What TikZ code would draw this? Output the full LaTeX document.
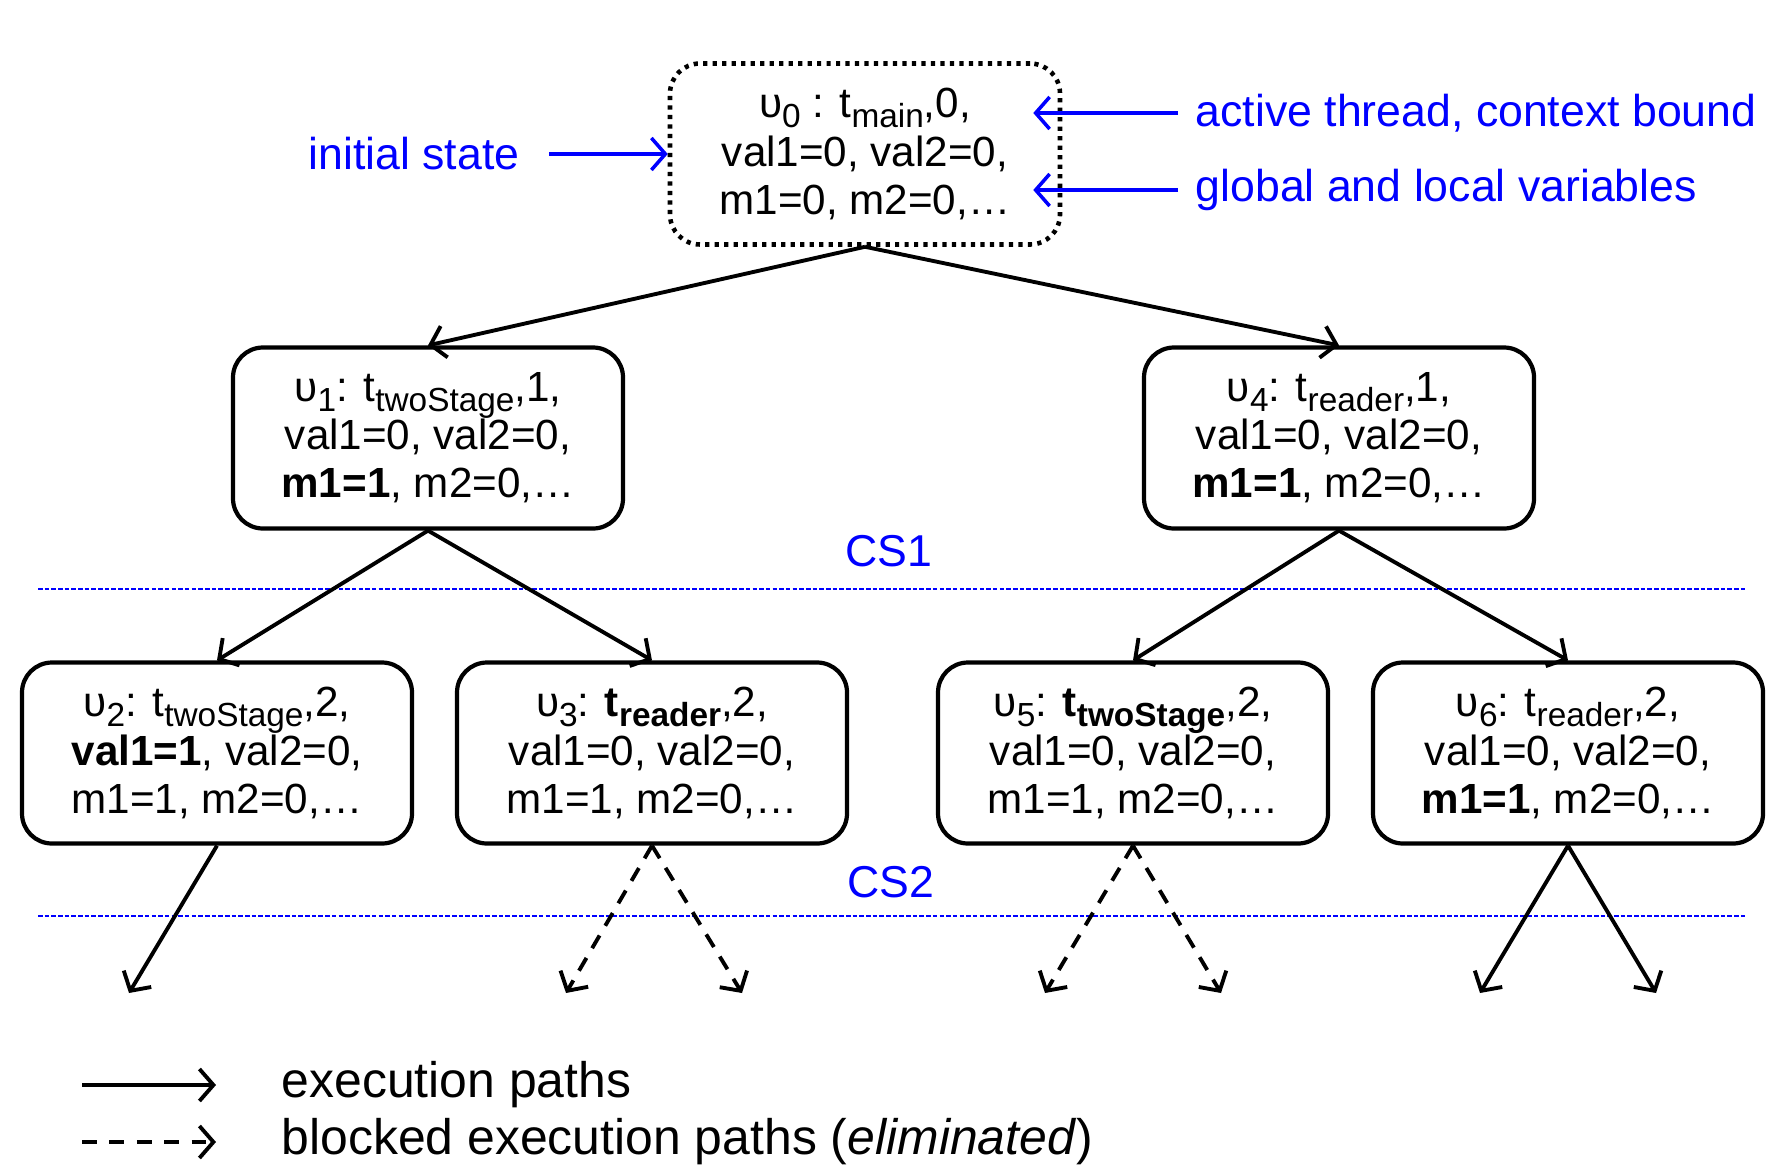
\documentclass[tikz,border=0pt]{standalone}
\usepackage{fontspec}
\setmainfont{Liberation Sans}
\usetikzlibrary{arrows.meta, calc}
\definecolor{noteblue}{RGB}{0,0,255}
\newcommand{\lowtext}[1]{\raisebox{-2.8pt}{\fontsize{9.5}{9.5}\selectfont #1}}

\begin{document}
\begin{tikzpicture}[every node/.style={font=\fontsize{12}{13.7}\selectfont, align=center},
  state/.style={draw, rounded corners=0.3cm, line width=1.2pt, minimum width=3.9cm, minimum height=1.81cm, inner sep=0pt},
  initstate/.style={state, line width=1.3pt, dash pattern=on 1.2pt off 1.5pt},
  execpath/.style={line width=1.1pt, -{Straight Barb[length=1.4mm, width=3.2mm]}},
  blockedpath/.style={execpath, dash pattern=on 4.2pt off 3.2pt},
  note/.style={text=noteblue, font=\fontsize{12.7}{15}\selectfont, inner sep=0pt},
  notearrow/.style={noteblue, line width=1pt, -{Straight Barb[length=1.4mm, width=3.2mm]}},
  csline/.style={noteblue, line width=0.6pt, dash pattern=on 1.3pt off 0.6pt}]
  \useasboundingbox (0,0) rectangle (17.85,11.71);
  \path (8.65,10.17) node[initstate] (v0) {υ\lowtext{0} : t\lowtext{main},0,\\val1=0, val2=0,\\m1=0, m2=0,…}
  (4.28,7.33) node[state] (v1) {υ\lowtext{1}: t\lowtext{twoStage},1,\\val1=0, val2=0,\\\textbf{m1=1}, m2=0,…}
  (13.39,7.33) node[state] (v4) {υ\lowtext{4}: t\lowtext{reader},1,\\val1=0, val2=0,\\\textbf{m1=1}, m2=0,…}
  (2.17,4.18) node[state] (v2) {υ\lowtext{2}: t\lowtext{twoStage},2,\\\textbf{val1=1}, val2=0,\\m1=1, m2=0,…}
  (6.52,4.18) node[state] (v3) {υ\lowtext{3}: \textbf{t\lowtext{reader}},2,\\val1=0, val2=0,\\m1=1, m2=0,…}
  (11.33,4.18) node[state] (v5) {υ\lowtext{5}: \textbf{t\lowtext{twoStage}},2,\\val1=0, val2=0,\\m1=1, m2=0,…}
  (15.68,4.18) node[state] (v6) {υ\lowtext{6}: t\lowtext{reader},2,\\val1=0, val2=0,\\\textbf{m1=1}, m2=0,…};

  \path (4.14,10.17) node[note] (init) {initial state}
  (11.95,10.58) node[note, anchor=west] (act) {active thread, context bound}
  (11.95,9.81) node[note, anchor=west] (vars) {global and local variables}
  (8.89,6.20) node[note] (cs1) {CS1}
  (8.91,2.89) node[note] (cs2) {CS2};
  \coordinate (rootin) at ($(v0.east)+(-0.29,0)$);
  \draw[notearrow, shorten <=0.29cm] (init.east) -- (v0.west);
  \draw[notearrow, shorten <=0.17cm] (act.west) -- (act.west -| rootin);
  \draw[notearrow, shorten <=0.17cm] (vars.west) -- (vars.west -| rootin);

  \coordinate (cs1a) at (0.38,5.82); \coordinate (cs1b) at (17.47,5.82);
  \coordinate (cs2a) at (0.38,2.55); \coordinate (cs2b) at (17.47,2.55);
  \draw[csline] (cs1a) -- (cs1b);
  \draw[csline] (cs2a) -- (cs2b);

  \draw[execpath] (v0.south) -- (v1.north);
  \draw[execpath] (v0.south) -- (v4.north);
  \draw[execpath] (v1.south) -- (v2.north);
  \draw[execpath] (v1.south) -- (v3.north);
  \draw[execpath] (v4.south) -- (v5.north);
  \draw[execpath] (v4.south) -- (v6.north);

  \path (1.29,1.78) coordinate (e2) (5.66,1.78) coordinate (e3a) (7.42,1.78) coordinate (e3b)
  (10.45,1.78) coordinate (e5a) (12.21,1.78) coordinate (e5b)
  (14.80,1.78) coordinate (e6a) (16.56,1.78) coordinate (e6b);
  \draw[execpath] (v2.south) -- (e2);
  \draw[blockedpath] (v3.south) -- (e3a);
  \draw[blockedpath] (v3.south) -- (e3b);
  \draw[blockedpath] (v5.south) -- (e5a);
  \draw[blockedpath] (v5.south) -- (e5b);
  \draw[execpath] (v6.south) -- (e6a);
  \draw[execpath] (v6.south) -- (e6b);

  \path (0.82,0.86) coordinate (l1a) (2.16,0.86) coordinate (l1b)
  (0.82,0.29) coordinate (l2a) (2.16,0.29) coordinate (l2b);
  \draw[execpath] (l1a) -- (l1b);
  \draw[blockedpath, dash pattern=on 4.2pt off 3.6pt] (l2a) -- (l2b);
  \path (2.81,0.86) node[anchor=west, inner sep=0pt, font=\fontsize{14.2}{16}\selectfont] (leg1) {execution paths}
  (2.81,0.29) node[anchor=west, inner sep=0pt, font=\fontsize{14.2}{16}\selectfont] (leg2) {blocked execution paths (\textit{eliminated})};
\end{tikzpicture}
\end{document}
